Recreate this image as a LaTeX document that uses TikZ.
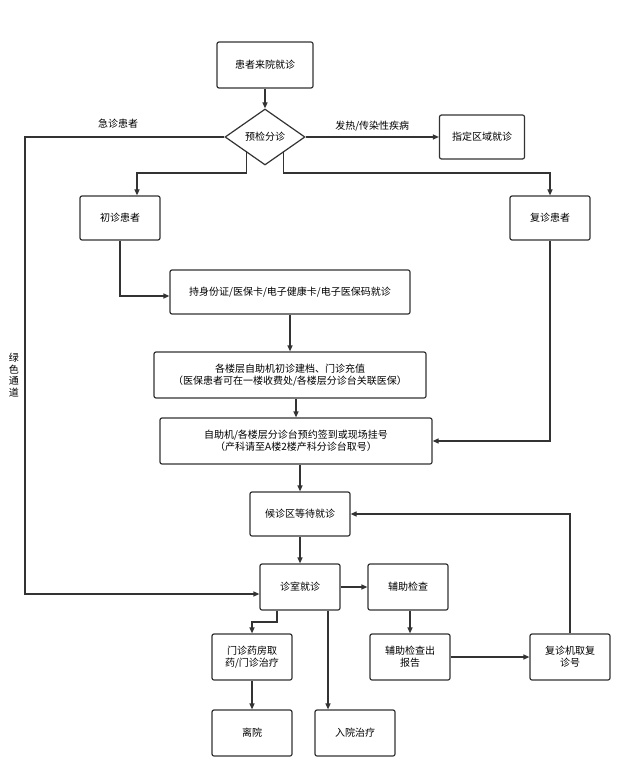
\documentclass[tikz,border=0pt]{standalone}
\usepackage{fontspec}
\setmainfont{Noto Sans CJK SC}
\usetikzlibrary{shapes.geometric,arrows.meta}
\begin{document}
\begin{tikzpicture}[x=1pt,y=-1pt,
 box/.style={draw=black!80,line width=1.2pt,rounded corners=2pt,fill=white,font=\fontsize{10}{12}\selectfont,align=center,inner sep=0pt},
 ar/.style={draw=black!80,line width=1.2pt,-{Triangle[length=6pt,width=5pt]}},
 ln/.style={draw=black!80,line width=1.2pt},
 lb/.style={font=\fontsize{10}{12}\selectfont}]
\useasboundingbox (0,0) rectangle (638,783);
\fill[white] (0,0) rectangle (638,783);
\node[box,minimum width=96pt,minimum height=46pt] (a) at (265,65) {患者来院就诊};
\node[diamond,draw=black!80,line width=1.2pt,fill=white,minimum width=80pt,minimum height=56pt,inner sep=0pt,font=\fontsize{10}{12}\selectfont] (d) at (265,137) {预检分诊};
\node[box,minimum width=85pt,minimum height=44pt] (z) at (482,137) {指定区域就诊};
\node[box,minimum width=80pt,minimum height=44pt] (c) at (120,218) {初诊患者};
\node[box,minimum width=80pt,minimum height=44pt] (f) at (550,218) {复诊患者};
\node[box,minimum width=240pt,minimum height=44pt] (s) at (290,292) {持身份证/医保卡/电子健康卡/电子医保码就诊};
\node[box,minimum width=272pt,minimum height=46pt] (g) at (290,375) {各楼层自助机初诊建档、门诊充值\\（医保患者可在一楼收费处/各楼层分诊台关联医保）};
\node[box,minimum width=272pt,minimum height=46pt] (h) at (296,441) {自助机/各楼层分诊台预约签到或现场挂号\\（产科请至A楼2楼产科分诊台取号）};
\node[box,minimum width=100pt,minimum height=44pt] (w) at (300,514) {候诊区等待就诊};
\node[box,minimum width=80pt,minimum height=46pt] (r) at (300,587) {诊室就诊};
\node[box,minimum width=80pt,minimum height=46pt] (e) at (408,587) {辅助检查};
\node[box,minimum width=80pt,minimum height=46pt] (m) at (252,657) {门诊药房取\\药/门诊治疗};
\node[box,minimum width=80pt,minimum height=46pt] (p) at (410,657) {辅助检查出\\报告};
\node[box,minimum width=80pt,minimum height=46pt] (q) at (570,657) {复诊机取复\\诊号};
\node[box,minimum width=80pt,minimum height=46pt] (l) at (252,733) {离院};
\node[box,minimum width=80pt,minimum height=46pt] (i) at (355,733) {入院治疗};
\coordinate (k1) at (25,137);
\coordinate (k2) at (25,594);
\draw[ar] (a) -- (d);
\draw[ar] (d) -- (z) node[lb,midway,above=2pt] {发热/传染性疾病};
\draw[ar] (d.west) -- (k1) -- (k2) -- (r.west|-k2);
\node[lb] at (118,124) {急诊患者};
\node[lb,align=center,font=\fontsize{10}{11.5}\selectfont] at (14,375) {绿\\色\\通\\道};
\draw[ar] (d.south west) ++(2pt,0) |- (137,173) -- (c.north-|137,0);
\draw[ar] (d.south east) ++(-2pt,0) |- (550,173) -- (f.north);
\draw[ar] (c.south) |- (s.west|-0,296);
\draw[ar] (s) -- (g);
\draw[ar] (g.south-|h.north) -- (h.north);
\draw[ar] (f.south) |- (h.east);
\draw[ar] (h.south-|w.north) -- (w.north);
\draw[ar] (w) -- (r);
\draw[ar] (r) -- (e);
\draw[ar] (e.south-|p.north) -- (p.north);
\draw[ar] (p) -- (q);
\draw[ar] (q.north) |- (w.east);
\draw[ar] (r.south-|277,0) |- (252,622) -- (m.north);
\draw[ar] (r.south-|328,0) -- (i.north-|328,0);
\draw[ar] (m) -- (l);
\end{tikzpicture}
\end{document}
